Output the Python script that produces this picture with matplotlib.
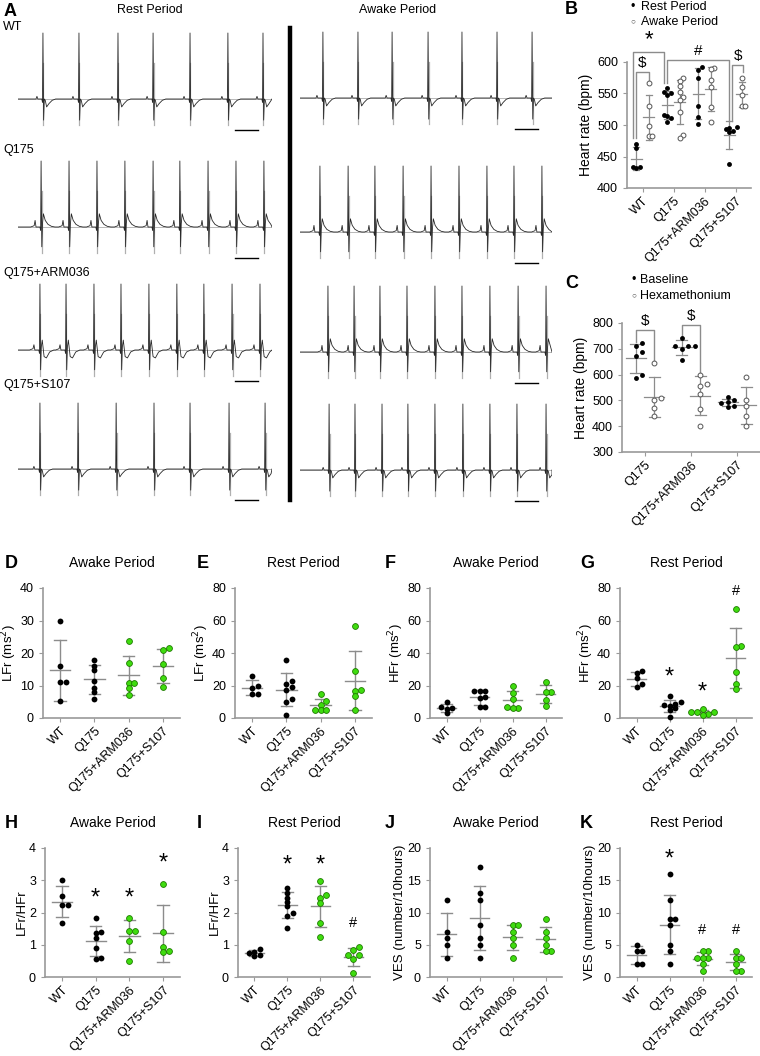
import numpy as np
import matplotlib
matplotlib.use("Agg")
import matplotlib.pyplot as plt
from matplotlib.lines import Line2D

plt.rcParams['font.family'] = ['Liberation Sans', 'DejaVu Sans']
plt.rcParams['font.size'] = 9

W, H = 760, 1056

# ---------------- data ----------------
groups4 = ["WT", "Q175", "Q175+ARM036", "Q175+S107"]
groups3 = ["Q175", "Q175+ARM036", "Q175+S107"]

# B: heart rate (bpm), rest vs awake
hr_rest = [[470, 463, 434, 432, 434],
           [558, 552, 550, 547, 516, 514, 511, 505],
           [588, 592, 575, 530, 513, 501],
           [497, 496, 493, 491, 489, 438]]
hr_awake = [[567, 530, 498, 483, 483],
            [574, 570, 562, 552, 545, 540, 520, 484, 480],
            [591, 589, 572, 560, 528, 504],
            [575, 560, 548, 530, 530]]

# C: heart rate (bpm), baseline vs hexamethonium
hr_base = [[723, 712, 686, 671, 600, 587],
           [742, 712, 712, 712, 699, 655],
           [515, 500, 495, 490, 480, 475]]
hr_hexa = [[645, 510, 500, 470, 440],
           [600, 565, 557, 526, 465, 400],
           [590, 500, 480, 440, 400]]

# D-K
lf_awake = [[30, 16, 11.2, 11.2, 5.1],
            [17.8, 16.1, 14.7, 11.4, 9.2, 7.9, 5.9],
            [23.6, 17, 10.7, 10.9, 9.2, 7.1],
            [21.4, 20.9, 16.5, 12.2, 9.5]]
lf_rest = [[26, 19.5, 18.5, 14.5, 14.5],
           [36, 23, 21, 19, 17, 12, 10, 2],
           [14.8, 10.2, 8.2, 5.1, 5.1, 5.1],
           [56.8, 28.7, 16.4, 17.4, 13.7, 4.7]]
hf_awake = [[10, 6.5, 6, 5.5, 3],
            [16.8, 16.9, 16.5, 12.9, 12.5, 6.5, 6.5],
            [19.4, 15.3, 11.6, 6.1, 6.7, 6],
            [22.4, 16.3, 15.7, 11.2, 7.6]]
hf_rest = [[29, 27.5, 24.5, 21, 19],
           [13.7, 9.6, 8.4, 8, 7.5, 6, 4.7, 0.6],
           [5.5, 2.7, 3.5, 4, 3.8, 1.8],
           [67, 44.3, 43.5, 28.6, 21, 18]]
ratio_awake = [[3.0, 2.51, 2.24, 2.24, 1.67],
               [1.83, 1.38, 1.35, 1.2, 0.9, 0.55, 0.6],
               [1.83, 1.44, 1.44, 1.13, 0.51],
               [2.89, 1.38, 0.94, 0.77, 0.8]]
ratio_rest = [[0.87, 0.78, 0.74, 0.69, 0.65],
              [2.75, 2.62, 2.46, 2.34, 2.2, 2.0, 1.9, 1.51],
              [2.97, 2.53, 2.46, 2.28, 1.67, 1.23],
              [0.84, 0.92, 0.67, 0.56, 0.67, 0.12]]
ves_awake = [[12, 7, 6, 5, 3],
             [17, 13, 12, 8, 6, 5, 3],
             [8, 8, 7, 6, 5, 3],
             [9, 7, 6, 5, 4, 4]]
ves_rest = [[5, 4, 4, 2, 2],
            [16, 12, 9, 9, 8, 5, 4, 2],
            [4, 4, 3, 3, 3, 2, 1],
            [4, 3, 3, 2, 1, 1]]

# significance marks (label, height) per group
sig_G = [None, ("*", 25), ("*", 15.5), ("#", 78)]
sig_H = [None, ("*", 2.42), ("*", 2.42), ("*", 3.52)]
sig_I = [None, ("*", 3.47), ("*", 3.47), ("#", 1.68)]
sig_K = [None, ("*", 18.2), ("#", 7.3), ("#", 7.3)]

# ECG: R-peak times (ms) for each trace
beats_rest = {
    "WT": [108, 264, 433, 585, 745, 909, 1061],
    "Q175": [100, 221, 342, 463, 585, 701, 823, 944, 1065],
    "Q175+ARM036": [95, 208, 329, 446, 567, 688, 805, 927, 1048],
    "Q175+S107": [95, 260, 425, 589, 745, 914, 1070],
}
beats_awake = {
    "WT": [100, 253, 402, 559, 707, 860, 1013],
    "Q175": [87, 210, 327, 450, 572, 694, 816, 934, 1056],
    "Q175+ARM036": [122, 236, 349, 467, 589, 707, 829, 952, 1074],
    "Q175+S107": [127, 240, 358, 471, 589, 711, 829, 947, 1074],
}
# beat shapes (ms offset, amplitude relative to R)
tmpl_t = {
    "neg": [-50, -30, -26, -22, -5, -2, 0, 3, 6, 10, 16, 26, 40, 55],
    "pos": [-45, -30, -26, -22, -5, -2, 0, 3, 6, 10, 18, 30, 45, 60],
    "bi": [-45, -30, -26, -22, -5, -2, 0, 3, 6, 10, 18, 28, 42, 60],
}
tmpl_v = {
    "neg": [0, 0, 0.04, 0, 0, -0.05, 1.0, -0.32, 0.0, -0.02, -0.12, -0.07, -0.02, 0],
    "pos": [0, 0.02, 0.1, 0.0, 0, -0.05, 1.0, -0.3, 0.05, 0.2, 0.1, 0.04, 0.01, 0],
    "bi": [0, 0.02, 0.08, 0.0, 0, -0.05, 1.0, -0.3, 0.05, 0.15, -0.1, -0.12, -0.03, 0],
}
shape_rest = {"WT": "neg", "Q175": "pos", "Q175+ARM036": "bi", "Q175+S107": "neg"}
shape_awake = {"WT": "neg", "Q175": "pos", "Q175+ARM036": "pos", "Q175+S107": "neg"}

GREEN = "#3fdc0f"
GREEN_E = "#1f7a00"
EB = "#8c8c8c"
SPINE = "#9a9a9a"


def rect(x0, y0, x1, y1):
    return [x0 / W, 1 - y1 / H, (x1 - x0) / W, (y1 - y0) / H]


def swarm(vals, tol, d):
    # simple beeswarm: nudge points sideways only when they would overlap
    vals = np.asarray(vals, float)
    offs = np.zeros(len(vals))
    placed = []
    for i in np.argsort(vals):
        cands = [0.0]
        for k in range(1, 6):
            cands += [k * d, -k * d]
        for c in cands:
            if all(abs(vals[i] - vals[j]) >= tol or abs(c - offs[j]) >= d * 0.95
                   for j in placed):
                offs[i] = c
                break
        placed.append(i)
    return offs


def dots(ax, vals, x, tol, d, face, edge, ms=4.0, mew=0.0, hw=0.3, cw=0.17, lw=1.0):
    vals = np.asarray(vals, float)
    offs = swarm(vals, tol, d)
    m, s = vals.mean(), vals.std(ddof=1)
    ax.plot([x - hw, x + hw], [m, m], color=EB, lw=lw, zorder=2)
    ax.plot([x - cw, x + cw], [m + s, m + s], color=EB, lw=lw, zorder=2)
    ax.plot([x - cw, x + cw], [m - s, m - s], color=EB, lw=lw, zorder=2)
    ax.plot([x, x], [m - s, m + s], color=EB, lw=lw, zorder=2)
    ax.plot(x + offs, vals, 'o', ms=ms, mfc=face, mec=edge, mew=mew,
            zorder=3, clip_on=False)


def style(ax, ylim, yticks, labels, rot=45, fs=9):
    for sp in ['top', 'right']:
        ax.spines[sp].set_visible(False)
    for sp in ['left', 'bottom']:
        ax.spines[sp].set_color(SPINE)
        ax.spines[sp].set_linewidth(1.2)
    ax.set_ylim(*ylim)
    ax.set_yticks(yticks)
    ax.set_xticks(range(len(labels)))
    ax.set_xticklabels(labels, rotation=rot, ha='right', rotation_mode='anchor',
                       fontsize=fs)
    ax.tick_params(axis='both', colors=SPINE, labelcolor='black', length=3,
                   labelsize=fs)
    ax.tick_params(axis='x', pad=2)
    ax.set_xlim(-0.5, len(labels) - 0.5)


def bracket(ax, x1, x2, y, b1, b2, label, dy, fs=11):
    ax.plot([x1, x1, x2, x2], [b1, y, y, b2], color=EB, lw=1.0, clip_on=False)
    ax.text((x1 + x2) / 2, y + dy, label, ha='center', va='bottom', fontsize=fs,
            clip_on=False)


fig = plt.figure(figsize=(W / 100, H / 100), dpi=100)

# ---------------- panel A ----------------
fig.text(4 / W, 1 - 12 / H, "A", fontsize=13, fontweight='bold', va='center')
fig.text(150 / W, 1 - 10 / H, "Rest Period", ha='center', va='center', fontsize=9)
fig.text(398 / W, 1 - 10 / H, "Awake Period", ha='center', va='center', fontsize=9)
fig.add_artist(Line2D([290 / W, 290 / W], [1 - 28 / H, 1 - 500 / H], color='black',
                      lw=3.2))

row_label_y = [27, 150, 273, 385]
base_left = [99, 227, 350, 469]
base_right = [98, 232, 352, 470]
U = 66
for g, ly, bl, br in zip(groups4, row_label_y, base_left, base_right):
    fig.text(3 / W, 1 - ly / H, g, va='center', fontsize=9)
    for (x0, x1), b, beats, shp in [((18, 272), bl, beats_rest[g], shape_rest[g]),
                                   ((300, 552), br, beats_awake[g], shape_awake[g])]:
        ax = fig.add_axes(rect(x0, b - 1.1 * U, x1, b + 0.6 * U))
        ax.set_xlim(0, 1100)
        ax.set_ylim(-0.6, 1.1)
        ax.axis('off')
        tt, vv = [0.0], [0.0]
        for bt in beats:
            tt += [bt + d for d in tmpl_t[shp]]
            vv += tmpl_v[shp]
        tt.append(1100.0)
        vv.append(0.0)
        tt = np.array(tt)
        vv = np.array(vv)
        keep = tt <= 1100
        ax.axhline(0, color='#b8b8b8', lw=0.7)
        for bt in beats:
            ax.plot([bt + 2, bt + 2], [-0.4, 0.55], color='#b0b0b0', lw=0.9)
        ax.plot(tt[keep], vv[keep], color='#262626', lw=0.6)
        ax.plot([940, 1040], [-0.47, -0.47], color='black', lw=1.0)

# ---------------- panel B ----------------
axB = fig.add_axes(rect(627, 62, 751, 188))
style(axB, (400, 600), [400, 450, 500, 550, 600], groups4, fs=9)
axB.set_ylabel("Heart rate (bpm)", fontsize=10, labelpad=3)
off = 0.2
for i in range(4):
    dots(axB, hr_rest[i], i - off, 7, 0.12, 'black', 'black', ms=3.5, hw=0.17, cw=0.1, lw=0.9)
    dots(axB, hr_awake[i], i + off, 7, 0.12, 'white', '#555555', ms=3.5, mew=0.7,
         hw=0.17, cw=0.1, lw=0.9)

pad = 9
bracket(axB, -0.3, 0.7, 616, max(hr_rest[0]) + pad, max(hr_rest[1]) + pad, "*", 2, fs=16)
bracket(axB, -0.2, 0.2, 584, max(hr_rest[0]) + pad, max(hr_awake[0]) + 4, "$", 3)
bracket(axB, 0.8, 2.8, 603, max(hr_rest[1]) + pad, max(hr_rest[3]) + pad, "#", 3)
bracket(axB, 2.9, 3.25, 595, max(hr_rest[3]) + pad, max(hr_awake[3]) + pad, "$", 3)
fig.text(565 / W, 1 - 10 / H, "B", fontsize=13, fontweight='bold', va='center')
fig.text(633 / W, 1 - 7 / H, "•", fontsize=9, va='center', ha='center')
fig.text(641 / W, 1 - 7 / H, "Rest Period", fontsize=9, va='center')
fig.text(633 / W, 1 - 22 / H, "○", fontsize=6, va='center', ha='center', color='#555555')
fig.text(641 / W, 1 - 22 / H, "Awake Period", fontsize=9, va='center')

# ---------------- panel C ----------------
axC = fig.add_axes(rect(622, 323, 760, 452))
style(axC, (300, 800), [300, 400, 500, 600, 700, 800], groups3, fs=9)
axC.set_ylabel("Heart rate (bpm)", fontsize=10, labelpad=3)
for i in range(3):
    dots(axC, hr_base[i], i - off, 17, 0.14, 'black', 'black', ms=3.5, hw=0.22, cw=0.12, lw=0.9)
    dots(axC, hr_hexa[i], i + off, 17, 0.14, 'white', '#555555', ms=3.5, mew=0.7,
         hw=0.22, cw=0.12, lw=0.9)
bracket(axC, -0.2, 0.2, 773, max(hr_base[0]) + 2, max(hr_hexa[0]) + 12, "$", 8)
bracket(axC, 0.8, 1.2, 792, max(hr_base[1]) + 2, max(hr_hexa[1]) + 6, "$", 8)
fig.text(565 / W, 1 - 283 / H, "C", fontsize=13, fontweight='bold', va='center')
fig.text(634 / W, 1 - 280 / H, "•", fontsize=9, va='center', ha='center')
fig.text(640 / W, 1 - 280 / H, "Baseline", fontsize=9, va='center')
fig.text(634 / W, 1 - 296 / H, "○", fontsize=6, va='center', ha='center', color='#555555')
fig.text(640 / W, 1 - 296 / H, "Hexamethonium", fontsize=9, va='center')

# ---------------- panels D-K ----------------
cols = ['black', 'black', GREEN, GREEN]
edges = ['black', 'black', GREEN_E, GREEN_E]
mews = [0, 0, 0.6, 0.6]

panels = [
    ("D", "Awake Period", lf_awake, "LFr (ms$^2$)", (0, 40), [0, 10, 20, 30, 40], None, (43, 588, 180, 718)),
    ("E", "Rest Period", lf_rest, "LFr (ms$^2$)", (0, 80), [0, 20, 40, 60, 80], None, (235, 588, 372, 718)),
    ("F", "Awake Period", hf_awake, "HFr (ms$^2$)", (0, 80), [0, 20, 40, 60, 80], None, (430, 588, 562, 718)),
    ("G", "Rest Period", hf_rest, "HFr (ms$^2$)", (0, 80), [0, 20, 40, 60, 80], sig_G, (620, 588, 752, 718)),
    ("H", "Awake Period", ratio_awake, "LFr/HFr", (0, 4), [0, 1, 2, 3, 4], sig_H, (45, 848, 180, 977)),
    ("I", "Rest Period", ratio_rest, "LFr/HFr", (0, 4), [0, 1, 2, 3, 4], sig_I, (238, 848, 370, 977)),
    ("J", "Awake Period", ves_awake, "VES (number/10hours)", (0, 20), [0, 5, 10, 15, 20], None, (430, 848, 562, 977)),
    ("K", "Rest Period", ves_rest, "VES (number/10hours)", (0, 20), [0, 5, 10, 15, 20], sig_K, (620, 848, 752, 977)),
]
letter_x = {"D": 5, "E": 197, "F": 385, "G": 580, "H": 5, "I": 197, "J": 385, "K": 580}

for letter, title, data, ylab, ylim, yt, sig, (x0, y0, x1, y1) in panels:
    ax = fig.add_axes(rect(x0, y0, x1, y1))
    style(ax, ylim, yt, groups4, fs=9)
    ax.set_ylabel(ylab, fontsize=9.5, labelpad=1)
    rng = ylim[1] - ylim[0]
    for i in range(4):
        dots(ax, data[i], i, rng * 0.03, 0.17, cols[i], edges[i], ms=4.2, mew=mews[i],
             hw=0.3, cw=0.17)
        if sig is not None and sig[i] is not None:
            star = sig[i][0] == "*"
            ax.text(i, sig[i][1], sig[i][0], ha='center', va='center',
                    fontsize=17 if star else 10.5)
    ax.text(0.5, 1 + 25 / (y1 - y0), title, transform=ax.transAxes, ha='center',
            va='center', fontsize=10)
    fig.text(letter_x[letter] / W, 1 - (y0 - 25) / H, letter, fontsize=13,
             fontweight='bold', va='center')

fig.savefig("out.png", dpi=100)
